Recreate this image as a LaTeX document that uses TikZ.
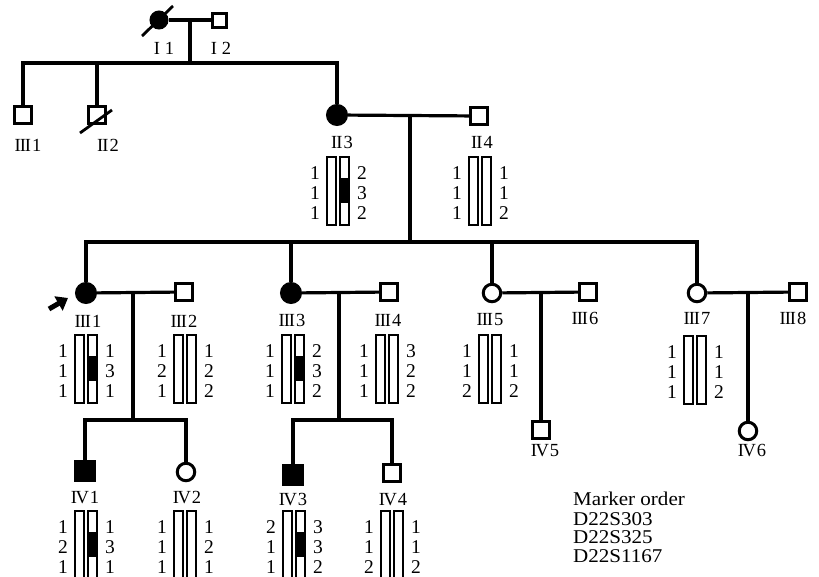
\documentclass[tikz,border=0pt]{standalone}
\usepackage{fontspec}
\setmainfont{Liberation Serif}
\newfontfamily\mkfont[FakeStretch=1.08]{Liberation Serif}
\usetikzlibrary{arrows.meta}
\newcommand\RI{I}
\newcommand\RII{I\kern-1pt I}
\newcommand\RIII{I\kern-1pt I\kern-1pt I}
\newcommand\RIV{I\kern-1.5pt V}
\tikzset{
 ped/.style={line width=3.2pt},
 sq/.style={draw, line width=3pt, minimum size=16.5pt, inner sep=0pt, shape=rectangle},
 ci/.style={draw, line width=3pt, minimum size=17.5pt, inner sep=0pt, circle},
 aff/.style={fill=black},
 lab/.style={font=\fontsize{18.5}{18.5}\selectfont, inner sep=0pt},
 num/.style={font=\fontsize{19.5}{19.5}\selectfont, inner sep=0pt},
 bar/.style={line width=1.3pt},
 mk/.style={font=\mkfont\fontsize{19.5}{19.5}\selectfont, inner sep=0pt, anchor=base west},
}
\newcommand\hapl[5][0]{%
  \ifnum#1=1 \fill (#3+2,#4+21) rectangle (#3+11,#4+46);\fi
  \draw[bar] (#3-11,#4) rectangle (#3-2,#4+68);
  \draw[bar] (#3+2,#4) rectangle (#3+11,#4+68);
  \foreach \v [count=\i] in {#5} {\node[num] (#2l\i) at (#3-23,#4-4+20*\i) {\v};}
}
\newcommand\haplr[3]{%
  \foreach \v [count=\i] in {#3} {\node[num] (#1r\i) at (#2+24,\hapT-4+20*\i) {\v};}
}
\begin{document}
\begin{tikzpicture}[x=1pt,y=-1pt]
\useasboundingbox[fill=white] (0,0) rectangle (819,576);
% ---------- generation I
\node[ci,aff,minimum size=16pt] (I1) at (159,20) {};
\node[sq,minimum size=14pt] (I2) at (219,20) {};
\draw[line width=2.8pt] (I1.center) ++(-17,16) -- ++(31,-30);
\node[lab] (lI1) at (164,48) {\RI\kern5pt1};
\node[lab] (lI2) at (221,48) {\RI\kern5pt2};
\draw[ped] (I1) -- (I2);
\coordinate (Im) at (190,20);
\coordinate (IIs) at (190,63);
% ---------- generation II
\node[sq] (II1) at (23,115) {};
\node[sq] (II2) at (97,115) {};
\draw[line width=2.8pt] (II2.center) ++(-17,18) -- ++(32,-23);
\node[ci,aff,minimum size=19pt] (II3) at (337,115) {};
\node[sq] (II4) at (479,116) {};
\node[lab] (lII1) at (28,145) {\RIII\kern1pt1};
\node[lab] (lII2) at (108,145) {\RII\kern1pt2};
\node[lab] (lII3) at (342,142) {\RII\kern1pt3};
\node[lab] (lII4) at (482,142) {\RII\kern1pt4};
\draw[ped] (Im) -- (IIs);
\draw[ped] (II1.north) |- (IIs) -| (II3.north);
\draw[ped] (II2.north) -- (II2.north |- IIs);
\draw[ped] (II3) -- (II4);
\coordinate (IIm) at (410,115);
\coordinate (IIIs) at (410,242);
\draw[ped] (IIm) -- (IIIs);
% ---------- generation III
\node[ci,aff,minimum size=19pt] (III1) at (86,293) {};
\node[sq] (III2) at (184,292) {};
\node[ci,aff,minimum size=19pt] (III3) at (291,293) {};
\node[sq] (III4) at (389,292) {};
\node[ci] (III5) at (492,293) {};
\node[sq] (III6) at (588,292) {};
\node[ci] (III7) at (697,293) {};
\node[sq] (III8) at (798,292) {};
\node[lab] (lIII1) at (88,321) {\RIII\kern1pt1};
\node[lab] (lIII2) at (184,321) {\RIII\kern1pt2};
\node[lab] (lIII3) at (292,320) {\RIII\kern1pt3};
\node[lab] (lIII4) at (388,320) {\RIII\kern1pt4};
\node[lab] (lIII5) at (490,320) {\RIII\kern1pt5};
\node[lab] (lIII6) at (585,318) {\RIII\kern1pt6};
\node[lab] (lIII7) at (697,318) {\RIII\kern1pt7};
\node[lab] (lIII8) at (793,318) {\RIII\kern1pt8};
\draw[ped] (III1.north) |- (IIIs) -| (III7.north);
\draw[ped] (III3.north) -- (III3.north |- IIIs);
\draw[ped] (III5.north) -- (III5.north |- IIIs);
% proband arrow
\coordinate (pa) at (49,309);
\coordinate (pb) at (68,298);
\draw[line width=5pt, -{Triangle[length=11pt,width=16pt]}] (pa) -- (pb);
% matings
\draw[ped] (III1) -- (III2);
\draw[ped] (III3) -- (III4);
\draw[ped] (III5) -- (III6);
\draw[ped] (III7) -- (III8);
\coordinate (IIIam) at (133,292);
\coordinate (IVas) at (133,420);
\coordinate (IIIbm) at (339,292);
\coordinate (IVbs) at (339,420);
\coordinate (IIIcm) at (541,292);
\coordinate (IIIdm) at (748,292);
% ---------- generation IV
\node[sq,aff,minimum size=19pt] (IV1) at (85,471) {};
\node[ci] (IV2) at (186,472) {};
\node[sq,aff,minimum size=19pt] (IV3) at (293,475) {};
\node[sq] (IV4) at (392,473) {};
\node[sq] (IV5) at (541,430) {};
\node[ci] (IV6) at (748,431) {};
\node[lab] (lIV1) at (85,498) {\RIV\kern1pt1};
\node[lab] (lIV2) at (187,498) {\RIV\kern1pt2};
\node[lab] (lIV3) at (293,500) {\RIV\kern1pt3};
\node[lab] (lIV4) at (393,500) {\RIV\kern1pt4};
\node[lab] (lIV5) at (545,451) {\RIV\kern1pt5};
\node[lab] (lIV6) at (752,451) {\RIV\kern1pt6};
\draw[ped] (IIIam) -- (IVas);
\draw[ped] (IV1.north) |- (IVas) -| (IV2.north);
\draw[ped] (IIIbm) -- (IVbs);
\draw[ped] (IV3.north) |- (IVbs) -| (IV4.north);
\draw[ped] (IIIcm) -- (IV5.north);
\draw[ped] (IIIdm) -- (IV6.north);
% ---------- haplotypes
\def\hapT{157}\hapl[1]{hII3}{338}{157}{1,1,1}\haplr{hII3}{338}{2,3,2}
\def\hapT{157}\hapl{hII4}{480}{157}{1,1,1}\haplr{hII4}{480}{1,1,2}
\def\hapT{335}\hapl[1]{hIII1}{86}{335}{1,1,1}\haplr{hIII1}{86}{1,3,1}
\def\hapT{335}\hapl{hIII2}{185}{335}{1,2,1}\haplr{hIII2}{185}{1,2,2}
\def\hapT{335}\hapl[1]{hIII3}{293}{335}{1,1,1}\haplr{hIII3}{293}{2,3,2}
\def\hapT{335}\hapl{hIII4}{387}{335}{1,1,1}\haplr{hIII4}{387}{3,2,2}
\def\hapT{335}\hapl{hIII5}{490}{335}{1,1,2}\haplr{hIII5}{490}{1,1,2}
\def\hapT{336}\hapl{hIII7}{695}{336}{1,1,1}\haplr{hIII7}{695}{1,1,2}
\def\hapT{511}\hapl[1]{hIV1}{86}{511}{1,2,1}\haplr{hIV1}{86}{1,3,1}
\def\hapT{511}\hapl{hIV2}{185}{511}{1,1,1}\haplr{hIV2}{185}{1,2,1}
\def\hapT{511}\hapl[1]{hIV3}{294}{511}{2,1,1}\haplr{hIV3}{294}{3,3,2}
\def\hapT{511}\hapl{hIV4}{392}{511}{1,1,2}\haplr{hIV4}{392}{1,1,2}
% ---------- marker order
\node[mk] (mk1) at (573,505) {Marker order};
\node[mk] (mk2) at (573,525) {D22S303};
\node[mk] (mk3) at (573,543) {D22S325};
\node[mk] (mk4) at (573,562) {D22S1167};
\end{tikzpicture}
\end{document}
